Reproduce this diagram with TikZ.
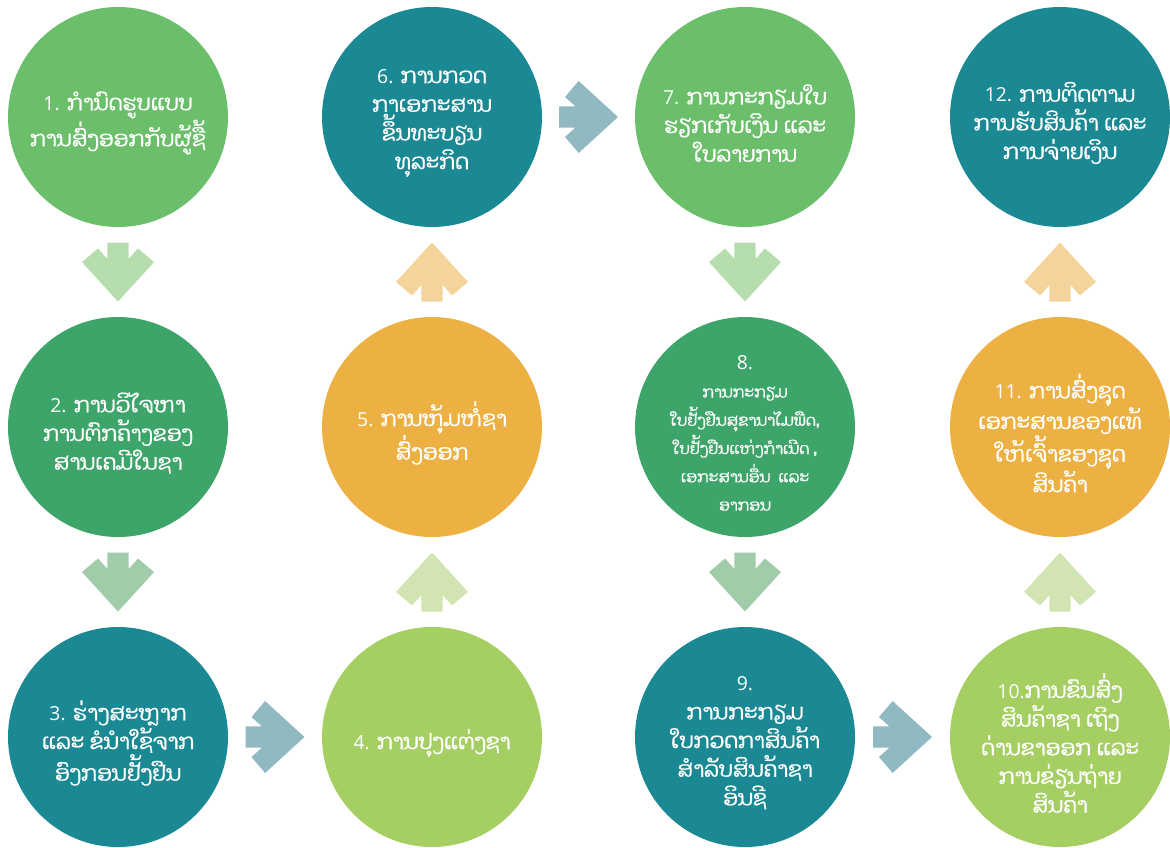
\documentclass[tikz,border=0pt]{standalone}
\usepackage{fontspec}
\setmainfont{Open Sans}
\newfontfamily\laofont[Script=Lao,FakeBold=0.8]{Dhyana}
\usetikzlibrary{calc}
\definecolor{stagegreen}{RGB}{107,191,106}
\definecolor{stagedeep}{RGB}{62,165,106}
\definecolor{stageteal}{RGB}{26,137,148}
\definecolor{stagelime}{RGB}{165,207,99}
\definecolor{stagegold}{RGB}{236,177,66}
\definecolor{arrowgreen}{RGB}{181,221,174}
\definecolor{arrowdeep}{RGB}{160,204,170}
\definecolor{arrowteal}{RGB}{145,185,193}
\definecolor{arrowlime}{RGB}{210,228,178}
\definecolor{arrowgold}{RGB}{245,212,155}
\tikzset{
  stage/.style={
    circle,
    minimum size=165pt,
    inner sep=0pt
  },
  stage-text/.style={
    inner sep=0pt,
    text=white,
    align=center,
    font=\laofont\fontsize{16.2}{21.5}\selectfont
  },
  stage-small/.style={
    stage-text,
    font=\laofont\fontsize{11.8}{21.2}\selectfont
  }
}
\newcommand{\stepno}[1]{{\rmfamily\fontsize{14.5}{21.5}\selectfont #1}}
% circle with its text set a little low: name, position, colour, text style, text
\newcommand{\stagenode}[5]{
  \node[stage, fill=#3] (#1) at (#2) {};
  \node[#4] (#1-text) at ([yshift=-4.5pt]#1.center) {#5};
}
% block arrow half way between two stages: from, to, angle, colour
\newcommand{\flowarrow}[4]{
  \fill[#4, shift={($(#1)!0.5!(#2)$)}, rotate=#3]
    (-29.5,-10.7) -- (-13.2,-10.7) -- (-23.5,-20) -- (-9.9,-36) -- (29.5,0)
    -- (-9.9,36) -- (-23.5,20) -- (-13.2,10.7) -- (-29.5,10.7) -- cycle;
}

\begin{document}
\begin{tikzpicture}[x=0.75pt,y=-0.75pt]
  \useasboundingbox (0,0) rectangle (1170,847);
  % Column 1
  \stagenode{s1}{118,117}{stagegreen}{stage-text}
    {\stepno{1.} ກຳນົດຮູບແບບ\\ການສົ່ງອອກກັບຜູ້ຊື້}
  \stagenode{s2}{118,427}{stagedeep}{stage-text}
    {\stepno{2.} ການວິໄຈຫາ\\ການຕົກຄ້າງຂອງ\\ສານເຄມີໃນຊາ}
  \stagenode{s3}{118,737}{stageteal}{stage-text}
    {\stepno{3.} ຮ່າງສະຫຼາກ\\ແລະ ຂໍນຳໃຊ້ຈາກ\\ອົງກອນຢັ້ງຢືນ}
  % Column 2
  \stagenode{s4}{432,737}{stagelime}{stage-text}
    {\stepno{4.} ການປຸງແຕ່ງຊາ}
  \stagenode{s5}{432,427}{stagegold}{stage-text}
    {\stepno{5.} ການຫຸ້ມຫໍ່ຊາ\\ສົ່ງອອກ}
  \stagenode{s6}{432,117}{stageteal}{stage-text}
    {\stepno{6.} ການກວດ\\ກາເອກະສານ\\ຂຶ້ນທະບຽນ\\ທຸລະກິດ}
  % Column 3
  \stagenode{s7}{745,117}{stagegreen}{stage-text}
    {\stepno{7.} ການກະກຽມໃບ\\ຮຽກເກັບເງິນ ແລະ\\ໃບລາຍການ}
  \stagenode{s8}{745,427}{stagedeep}{stage-small}
    {\stepno{8.}\\ການກະກຽມ\\ໃບຢັ້ງຢືນສຸຂານາໄມພືດ,\\ໃບຢັ້ງຢືນແຫ່ງກຳເນີດ ,\\ເອກະສານອື່ນ~~ແລະ\\ອາກອນ}
  \stagenode{s9}{745,737}{stageteal}{stage-text}
    {\stepno{9.}\\ການກະກຽມ\\ໃບກວດກາສິນຄ້າ\\ສຳລັບສິນຄ້າຊາ\\ອິນຊີ}
  % Column 4
  \stagenode{s10}{1060,737}{stagelime}{stage-text}
    {\stepno{10.}ການຂົນສົ່ງ\\ສິນຄ້າຊາ ເຖິງ\\ດ່ານຂາອອກ ແລະ\\ການຂ່ຽນຖ່າຍ\\ສິນຄ້າ}
  \stagenode{s11}{1060,427}{stagegold}{stage-text}
    {\stepno{11.} ການສົ່ງຊຸດ\\ເອກະສານຂອງແທ້\\ໃຫ້ເຈົ້າຂອງຊຸດ\\ສິນຄ້າ}
  \stagenode{s12}{1060,117}{stageteal}{stage-text}
    {\stepno{12.} ການຕິດຕາມ\\ການຮັບສິນຄ້າ ແລະ\\ການຈ່າຍເງິນ}
  % Flow arrows
  \flowarrow{s1}{s2}{-90}{arrowgreen}
  \flowarrow{s2}{s3}{-90}{arrowdeep}
  \flowarrow{s3}{s4}{0}{arrowteal}
  \flowarrow{s4}{s5}{90}{arrowlime}
  \flowarrow{s5}{s6}{90}{arrowgold}
  \flowarrow{s6}{s7}{0}{arrowteal}
  \flowarrow{s7}{s8}{-90}{arrowgreen}
  \flowarrow{s8}{s9}{-90}{arrowdeep}
  \flowarrow{s9}{s10}{0}{arrowteal}
  \flowarrow{s10}{s11}{90}{arrowlime}
  \flowarrow{s11}{s12}{90}{arrowgold}
\end{tikzpicture}
\end{document}
